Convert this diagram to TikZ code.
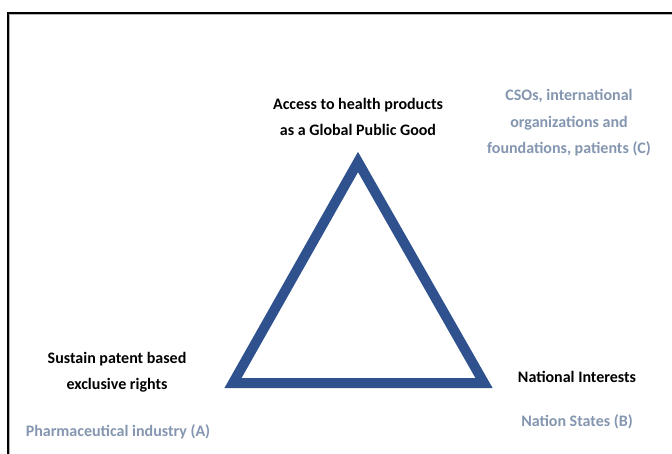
\documentclass[tikz,border=0pt]{standalone}
\usepackage{fontspec}
\setmainfont{Carlito}
\definecolor{tribl}{RGB}{47,82,143}
\definecolor{grtext}{RGB}{132,150,176}
\tikzset{
  blk/.style={align=center,font=\bfseries\fontsize{16}{26.5}\selectfont,text=black,inner sep=0pt},
  gry/.style={align=center,font=\bfseries\fontsize{16}{26.5}\selectfont,text=grtext,inner sep=0pt},
  tri/.style={draw=tribl,line width=10pt,line join=miter}
}
\begin{document}
\begin{tikzpicture}[x=1pt,y=-1pt]
\useasboundingbox (0,0) rectangle (672,454);
\fill[white] (0,0) rectangle (672,454);
% frame
\draw[black,line width=1.2pt] (8,454) -- (8,13) -- (672,13);
\draw[gray!60,line width=0.8pt] (9.4,454) -- (9.4,14.4) -- (672,14.4);
% triangle
\coordinate (top) at (358,162);
\coordinate (bl) at (233,383);
\coordinate (br) at (484,383);
\draw[tri] (top) -- (bl) -- (br) -- cycle;
% texts
\node[blk] (goal) at (358,117) {Access to health products\\as a Global Public Good};
\node[gry] (csos) at (569,123) {CSOs, international\\organizations and\\foundations, patients (C)};
\node[blk] (sust) at (117,372) {Sustain patent based\\exclusive rights};
\node[gry] (pharma) at (118,432) {Pharmaceutical industry (A)};
\node[blk] (natint) at (577,377) {National Interests};
\node[gry] (nstates) at (577,422) {Nation States (B)};
\end{tikzpicture}
\end{document}
